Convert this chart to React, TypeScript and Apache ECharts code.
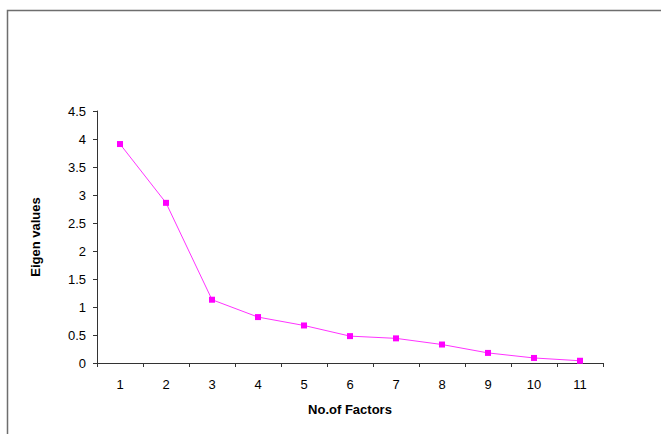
import React, { useEffect, useRef } from "react";
import * as echarts from "echarts";

const categories = ["1", "2", "3", "4", "5", "6", "7", "8", "9", "10", "11"];
const eigenValues = [3.91, 2.86, 1.13, 0.82, 0.67, 0.48, 0.44, 0.33, 0.18, 0.09, 0.04];
const xAxisTitle = "No.of Factors";
const yAxisTitle = "Eigen values";

export default function App() {
  const ref = useRef<HTMLDivElement>(null);
  useEffect(() => {
    if (!ref.current) return;
    const chart = echarts.init(ref.current, null, { renderer: "svg" });
    const font = "'Liberation Sans', Arial, sans-serif";
    chart.setOption({
      animation: false,
      backgroundColor: "#ffffff",
      graphic: [
        {
          type: "rect",
          shape: { x: 7.5, y: 10.5, width: 700, height: 500 },
          style: { fill: "none", stroke: "#6e6e6e", lineWidth: 1.5 },
          silent: true,
        },
      ],
      grid: { left: 97, top: 111, right: 58, bottom: 71, containLabel: false },
      xAxis: {
        type: "category",
        data: categories,
        boundaryGap: true,
        name: xAxisTitle,
        nameLocation: "middle",
        nameGap: 40,
        nameTextStyle: { fontFamily: font, fontSize: 13, fontWeight: "bold", color: "#000" },
        axisLine: { lineStyle: { color: "#333", width: 1 } },
        axisTick: { show: true, length: 4, lineStyle: { color: "#333" } },
        axisLabel: { fontFamily: font, fontSize: 13, color: "#000", margin: 15 },
        splitLine: { show: false },
      },
      yAxis: {
        type: "value",
        min: 0,
        max: 4.5,
        interval: 0.5,
        name: yAxisTitle,
        nameLocation: "middle",
        nameGap: 55,
        nameRotate: 90,
        nameTextStyle: { fontFamily: font, fontSize: 13, fontWeight: "bold", color: "#000" },
        axisLine: { show: true, lineStyle: { color: "#333", width: 1 } },
        axisTick: { show: true, length: 4, lineStyle: { color: "#333" } },
        axisLabel: { fontFamily: font, fontSize: 13, color: "#000", margin: 11 },
        splitLine: { show: false },
      },
      series: [
        {
          type: "line",
          data: eigenValues,
          symbol: "rect",
          symbolSize: 6,
          itemStyle: { color: "#ff00ff" },
          lineStyle: { color: "#ff33ff", width: 1 },
        },
      ],
    });
    return () => chart.dispose();
  }, []);
  return (
    <div
      ref={ref}
      style={{ position: "fixed", left: 0, top: 0, width: 661, height: 434 }}
    />
  );
}
